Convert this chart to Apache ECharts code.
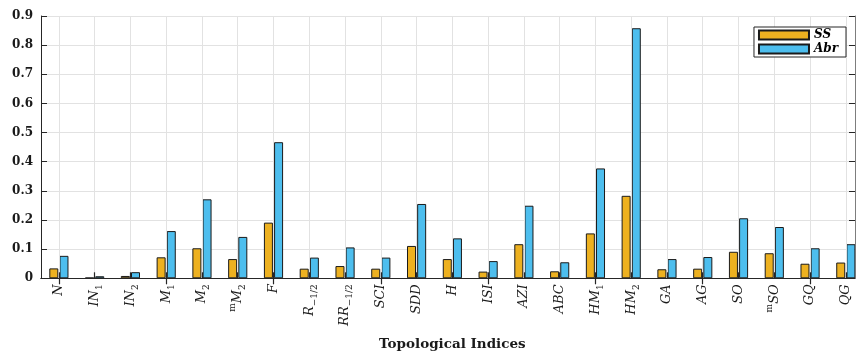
<!DOCTYPE html>
<html>
<head>
<meta charset="utf-8">
<script src="https://cdn.jsdelivr.net/npm/echarts@6/dist/echarts.min.js"></script>
<style>
  html, body { margin: 0; padding: 0; background: #fff; }
  #chart { width: 860px; height: 352px; }
</style>
</head>
<body>
<div id="chart"></div>
<script>
// Index names: "_" marks a subscript, "^" a superscript, braces group several characters
const categories = ['N', 'IN_1', 'IN_2', 'M_1', 'M_2', '^mM_2', 'F', 'R_{−1/2}', 'RR_{−1/2}',
  'SCI', 'SDD', 'H', 'ISI', 'AZI', 'ABC', 'HM_1', 'HM_2', 'GA', 'AG', 'SO', '^mSO', 'GQ', 'QG'];

const ssValues = [0.034, 0.002, 0.008, 0.072, 0.103, 0.066, 0.191, 0.033, 0.042, 0.033, 0.111,
  0.066, 0.023, 0.117, 0.024, 0.154, 0.283, 0.031, 0.033, 0.091, 0.086, 0.050, 0.054];

const abrValues = [0.077, 0.007, 0.021, 0.162, 0.271, 0.142, 0.467, 0.071, 0.106, 0.071, 0.255,
  0.137, 0.059, 0.249, 0.055, 0.377, 0.858, 0.066, 0.073, 0.206, 0.176, 0.103, 0.117];

const seriesNames = ['SS', 'Abr'];
const yTicks = { min: 0, max: 0.9, step: 0.1 };
const axisTitle = 'Topological Indices';

const SERIF = "'DejaVu Serif', 'Liberation Serif', serif";
const INK = '#262626';
const GRID_LINE = '#e2e2e2';

// Turn "IN_1" / "^mM_2" / "R_{−1/2}" into rich-text segments
function toRich(name) {
  const re = /\^(\{[^}]*\}|.)|_(\{[^}]*\}|.)|([^_^]+)/g;
  let out = '', m;
  const strip = s => s.replace(/^\{|\}$/g, '');
  while ((m = re.exec(name)) !== null) {
    if (m[1] !== undefined) out += '{p|' + strip(m[1]) + '}';
    else if (m[2] !== undefined) out += '{s|' + strip(m[2]) + '}';
    else out += '{i|' + m[3] + '}';
  }
  return out;
}

const chart = echarts.init(document.getElementById('chart'), null, { renderer: 'canvas' });

// Plot frame: categories are spaced so the last one sits close to the right border
const gridLeft = 41, gridTop = 16, gridBottom = 73.7;
const catStep = 35.77;
const gridWidth = catStep * categories.length;
const frameRight = 855;
const rightOffset = frameRight - (gridLeft + gridWidth);

const option = {
  backgroundColor: '#ffffff',
  animation: false,
  grid: {
    left: gridLeft, top: gridTop, bottom: gridBottom, width: gridWidth,
    containLabel: false,
    outerBoundsMode: 'none'
  },
  legend: {
    data: seriesNames,
    right: 14, top: 27,
    orient: 'vertical',
    itemWidth: 50, itemHeight: 9, itemGap: 2,
    padding: [2, 8, 2, 4],
    borderColor: INK, borderWidth: 1, backgroundColor: '#fff',
    icon: 'rect',
    textStyle: { fontFamily: SERIF, fontStyle: 'italic', fontWeight: 'bold', fontSize: 12, color: '#000' },
    z: 20
  },
  xAxis: [
    {
      type: 'category',
      data: categories,
      position: 'bottom',
      z: 5,
      name: axisTitle,
      nameLocation: 'middle',
      nameGap: 59,
      nameTextStyle: { fontFamily: SERIF, fontWeight: 'bold', fontSize: 13.5, color: '#1a1a1a' },
      axisLine: { show: true, lineStyle: { color: INK, width: 1 } },
      axisTick: { show: true, inside: true, alignWithLabel: true, length: 6, lineStyle: { color: INK, width: 1.2 } },
      axisLabel: {
        interval: 0,
        rotate: 90,
        margin: 6,
        color: '#1a1a1a',
        formatter: v => toRich(v),
        rich: {
          i: { fontFamily: SERIF, fontStyle: 'italic', fontSize: 13, lineHeight: 19, color: '#1a1a1a' },
          s: { fontFamily: SERIF, fontSize: 9, lineHeight: 19, verticalAlign: 'bottom', color: '#1a1a1a' },
          p: { fontFamily: SERIF, fontSize: 9, lineHeight: 19, verticalAlign: 'top', color: '#1a1a1a' }
        }
      },
      splitLine: { show: false }
    },
    {
      type: 'category',
      data: categories,
      position: 'top',
      z: 0,
      axisLine: { show: true, lineStyle: { color: INK, width: 1 } },
      axisTick: { show: true, inside: true, alignWithLabel: true, length: 6, lineStyle: { color: INK, width: 1.2 } },
      axisLabel: { show: false },
      splitLine: { show: false }
    }
  ],
  yAxis: [
    {
      type: 'value',
      min: yTicks.min, max: yTicks.max, interval: yTicks.step,
      position: 'left',
      axisLine: { show: true, lineStyle: { color: INK, width: 1 } },
      axisTick: { show: true, inside: true, length: 6, lineStyle: { color: INK, width: 1 } },
      axisLabel: {
        margin: 8,
        fontFamily: SERIF, fontWeight: 'bold', fontSize: 12, color: '#1a1a1a',
        formatter: v => (v === 0 ? '0' : v.toFixed(1))
      },
      splitLine: { show: true, lineStyle: { color: GRID_LINE, width: 1 } }
    },
    {
      type: 'value',
      min: yTicks.min, max: yTicks.max, interval: yTicks.step,
      position: 'right',
      offset: rightOffset,
      axisLine: { show: true, lineStyle: { color: INK, width: 1 } },
      axisTick: { show: true, inside: true, length: 6, lineStyle: { color: INK, width: 1 } },
      axisLabel: { show: false },
      splitLine: { show: false }
    }
  ],
  series: [
    // vertical grid lines through each category centre, kept beneath the bars
    {
      name: 'gridlines',
      type: 'line',
      data: [],
      z: 1,
      silent: true,
      markLine: {
        silent: true,
        symbol: 'none',
        label: { show: false },
        lineStyle: { color: GRID_LINE, width: 1, type: 'solid' },
        data: categories.map((c, i) => ({ xAxis: i }))
      }
    },
    {
      name: seriesNames[0],
      type: 'bar',
      data: ssValues,
      barWidth: 9,
      barGap: '13%',
      itemStyle: { color: '#EDB120', borderColor: '#1a1a1a', borderWidth: 1 }
    },
    {
      name: seriesNames[1],
      type: 'bar',
      data: abrValues,
      barWidth: 9,
      barGap: '13%',
      itemStyle: { color: '#4DBEEE', borderColor: '#1a1a1a', borderWidth: 1 }
    }
  ],
  // blank margin to the right of the frame
  graphic: [
    {
      type: 'rect',
      left: frameRight + 0.6, top: 0,
      shape: { width: 20, height: 352 },
      style: { fill: '#ffffff' },
      z: 100
    }
  ]
};

chart.setOption(option);
</script>
</body>
</html>
